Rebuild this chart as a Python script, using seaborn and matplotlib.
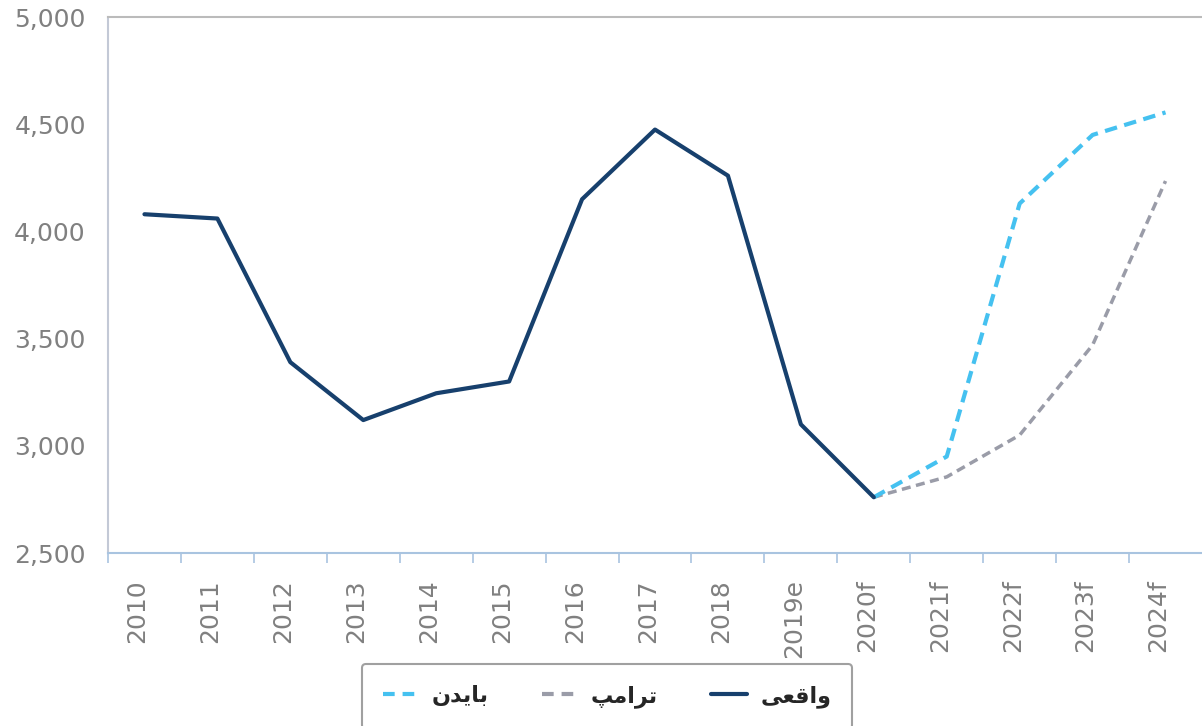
import numpy as np
import matplotlib
matplotlib.use("Agg")
import matplotlib.pyplot as plt
import matplotlib.transforms as mtransforms
import seaborn as sns
import pandas as pd
from matplotlib.lines import Line2D

# data
years = ["2010", "2011", "2012", "2013", "2014", "2015", "2016", "2017",
         "2018", "2019e", "2020f", "2021f", "2022f", "2023f", "2024f"]
actual = [4080, 4060, 3390, 3120, 3245, 3300, 4150, 4475, 4260, 3100, 2760]
biden = [2760, 2950, 4130, 4450, 4555]
trump = [2760, 2855, 3050, 3470, 4235]

# Persian labels (presentation forms, visual order so they show joined)
lbl_actual = "\uFBFD\uFECC\uFED7\uFE8D\uFEED"   # واقعی
lbl_trump = "\uFB57\uFEE3\uFE8D\uFEAE\uFE97"    # ترامپ
lbl_biden = "\uFEE5\uFEAA\uFBFE\uFE8E\uFE91"    # بایدن

c_actual = "#17406d"
c_biden = "#45c1f0"
c_trump = "#9a9ca8"

pos = np.arange(len(years))
df_a = pd.DataFrame({"x": pos[:len(actual)], "y": actual})
df_b = pd.DataFrame({"x": pos[len(actual) - 1:], "y": biden})
df_t = pd.DataFrame({"x": pos[len(actual) - 1:], "y": trump})

sns.set_style("white")
fig = plt.figure(figsize=(12.02, 7.26), dpi=100)
ax = fig.add_axes([108 / 1202, 173 / 726, 1094 / 1202, 536 / 726])

sns.lineplot(data=df_t, x="x", y="y", ax=ax, color=c_trump, lw=2.5,
             linestyle=(0, (2.6, 1.6)))
sns.lineplot(data=df_b, x="x", y="y", ax=ax, color=c_biden, lw=3,
             linestyle=(0, (3, 1.8)))
sns.lineplot(data=df_a, x="x", y="y", ax=ax, color=c_actual, lw=3)

ax.set_xlim(-0.5, len(years) - 0.5)
ax.set_ylim(2500, 5000)
ax.set_yticks([2500, 3000, 3500, 4000, 4500, 5000])
ax.set_yticklabels(["{:,}".format(v) for v in [2500, 3000, 3500, 4000, 4500, 5000]])
ax.set_xticks(pos - 0.5)
ax.set_xticklabels([])
ax.set_xticks(pos, minor=True)
ax.set_xticklabels(years, minor=True, rotation=90)
ax.set_xlabel("")
ax.set_ylabel("")

ax.tick_params(axis="y", which="major", length=8, width=1.2, color="#a9c4e0",
               pad=8, labelsize=18, labelcolor="#808080")
ax.tick_params(axis="x", which="major", length=7, width=1.2, color="#a9c4e0",
               bottom=True)
ax.tick_params(axis="x", which="minor", length=0, pad=19, labelsize=18,
               labelcolor="#808080", bottom=True)

# labels sit a little left of the category centre in the original
shift = mtransforms.ScaledTranslation(-7 / 100, 0, fig.dpi_scale_trans)
for t in ax.get_xticklabels(minor=True):
    t.set_transform(t.get_transform() + shift)

for s in ["left", "bottom", "top"]:
    ax.spines[s].set_visible(True)
    ax.spines[s].set_linewidth(1.5)
ax.spines["left"].set_color("#c3c9d6")
ax.spines["bottom"].set_color("#a9c4e0")
ax.spines["top"].set_color("#bbbbbb")
ax.spines["right"].set_visible(False)
ax.grid(False)

handles = [
    Line2D([], [], color=c_biden, lw=3, linestyle=(0, (2.8, 1.9))),
    Line2D([], [], color=c_trump, lw=3, linestyle=(0, (2.8, 1.9))),
    Line2D([], [], color=c_actual, lw=3),
]
leg = fig.legend(handles, [lbl_biden, lbl_trump, lbl_actual], ncol=3,
                 loc="upper center", bbox_to_anchor=(0.505, 1 - 664 / 726),
                 frameon=True, fancybox=True, handlelength=1.6,
                 columnspacing=2.4, borderpad=0.95, borderaxespad=0,
                 handletextpad=0.6,
                 prop={"family": "DejaVu Sans", "weight": "bold", "size": 16})
leg.get_frame().set_edgecolor("#888888")
leg.get_frame().set_linewidth(1.5)

fig.savefig("out.png", dpi=100)
